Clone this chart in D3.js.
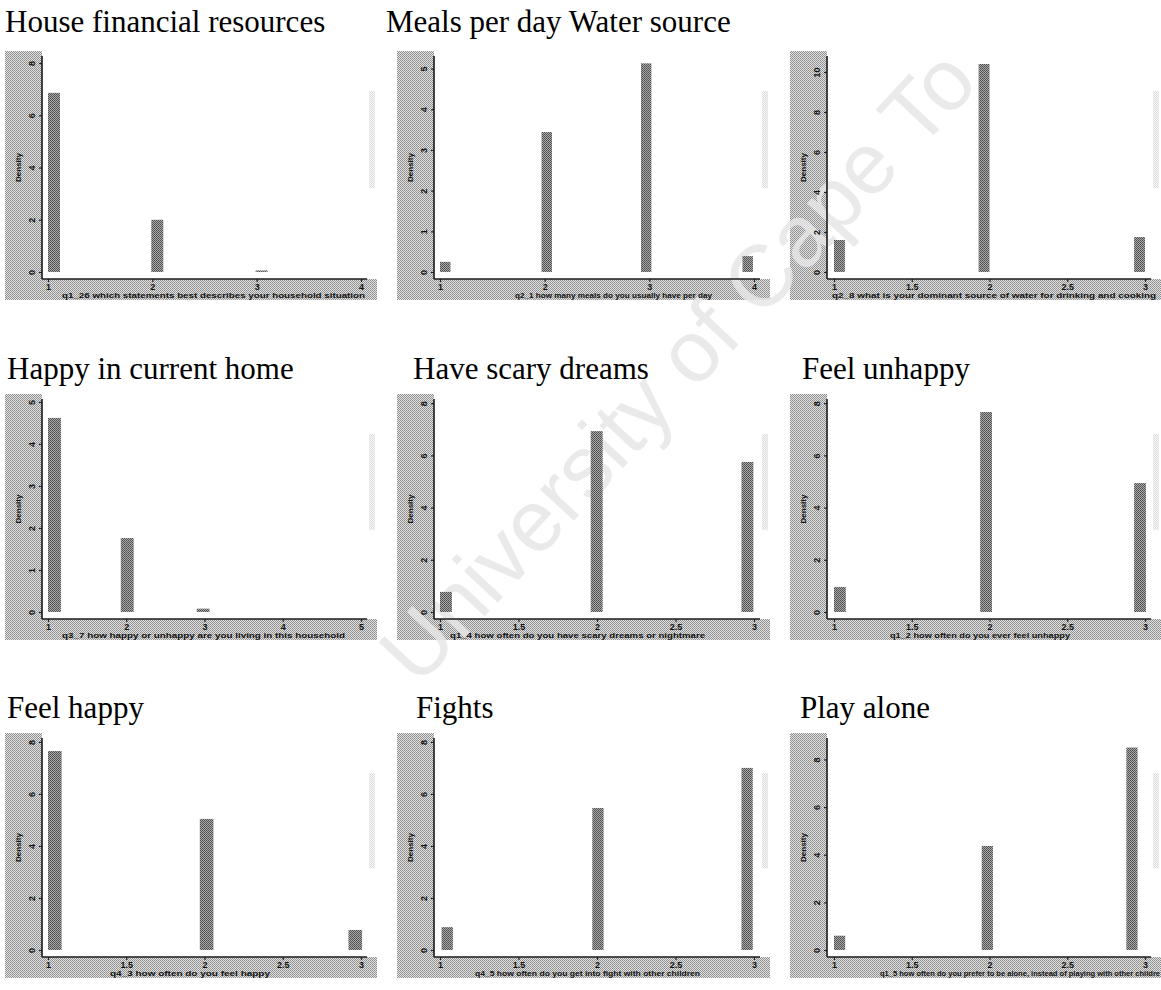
<!DOCTYPE html>
<html>
<head>
<meta charset="utf-8">
<script src="https://cdn.jsdelivr.net/npm/d3@7"></script>
<style>
  body { margin: 0; background: #fff; }
  svg { display: block; }
</style>
</head>
<body>
<div id="chart"></div>
<script>
// panel titles (Meals per day + Water source share one heading)
const titles = [
  "House financial resources", "Meals per day Water source", "",
  "Happy in current home", "Have scary dreams", "Feel unhappy",
  "Feel happy", "Fights", "Play alone"
];

// last label runs off the page in the scan
const xTitles = [
  "q1_26 which statements best describes your household situation",
  "q2_1 how many meals do you usually have per day",
  "q2_8 what is your dominant source of water for drinking and cooking",
  "q3_7 how happy or unhappy are you living in this household",
  "q1_4 how often do you have scary dreams or nightmare",
  "q1_2 how often do you ever feel unhappy",
  "q4_3 how often do you feel happy",
  "q4_5 how often do you get into fight with other children",
  "q1_5 how often do you prefer to be alone, instead of playing with other childre"
];

const xTicks = [
  [1, 2, 3, 4], [1, 2, 3, 4], [1, 1.5, 2, 2.5, 3],
  [1, 2, 3, 4, 5], [1, 1.5, 2, 2.5, 3], [1, 1.5, 2, 2.5, 3],
  [1, 1.5, 2, 2.5, 3], [1, 1.5, 2, 2.5, 3], [1, 1.5, 2, 2.5, 3]
];

const yTicks = [
  [0, 2, 4, 6, 8], [0, 1, 2, 3, 4, 5], [0, 2, 4, 6, 8, 10],
  [0, 1, 2, 3, 4, 5], [0, 2, 4, 6, 8], [0, 2, 4, 6, 8],
  [0, 2, 4, 6, 8], [0, 2, 4, 6, 8], [0, 2, 4, 6, 8]
];

// top of the y range of each plot region
const yTop = [8.27, 5.31, 10.8, 5.07, 8.16, 8.16, 8.15, 8.15, 8.9];

// histogram bins: left edge, width, density
const binStarts = [
  [1, 1.99, 2.99],
  [1, 1.97, 2.92, 3.89],
  [1, 1.93, 2.93],
  [1, 1.93, 2.9],
  [1, 1.96, 2.92],
  [1, 1.94, 2.93],
  [1, 1.97, 2.92],
  [1.01, 1.97, 2.92],
  [1, 1.95, 2.88]
];
const binWidth = [0.115, 0.1, 0.07, 0.165, 0.076, 0.076, 0.087, 0.072, 0.072];
const densities = [
  [6.86, 2.0, 0.06],
  [0.25, 3.44, 5.13, 0.39],
  [1.6, 10.4, 1.75],
  [4.62, 1.76, 0.08],
  [0.77, 6.93, 5.75],
  [0.96, 7.66, 4.94],
  [7.65, 5.04, 0.77],
  [0.88, 5.46, 7.0],
  [0.6, 4.37, 8.5]
];

// layout
const width = 1161, height = 990;
const colAxis = [42, 434, 827];          // y axis line
const colTickLo = [48, 440, 834];        // first x tick
const colTickHi = [361, 754, 1145];      // last x tick
const rowZero = [272, 612, 950];         // density 0
const rowTop = [56, 399, 738];           // top of plot region
const rowTitle = [32, 379, 718];         // heading baseline
const titleX = [5, 386, 0, 7, 413, 802, 7, 416, 800];
const xTitleSpan = [
  [62, 365], [515, 712], [832, 1156],
  [62, 345], [450, 705], [890, 1070],
  [110, 270], [475, 700], [880, 1160]
];

const svg = d3.select("#chart").append("svg")
  .attr("width", width)
  .attr("height", height)
  .style("background", "#fff");

const defs = svg.append("defs");

// halftone look of the scan
const shade = defs.append("pattern")
  .attr("id", "shade").attr("width", 2).attr("height", 2)
  .attr("patternUnits", "userSpaceOnUse");
shade.append("rect").attr("width", 2).attr("height", 2).attr("fill", "#e2e2e2");
shade.append("rect").attr("width", 1).attr("height", 1).attr("fill", "#8c8c8c");
shade.append("rect").attr("x", 1).attr("y", 1).attr("width", 1).attr("height", 1).attr("fill", "#969696");

const barFill = defs.append("pattern")
  .attr("id", "barFill").attr("width", 2).attr("height", 2)
  .attr("patternUnits", "userSpaceOnUse");
barFill.append("rect").attr("width", 2).attr("height", 2).attr("fill", "#a8a8a8");
barFill.append("rect").attr("width", 1).attr("height", 1).attr("fill", "#4e4e4e");
barFill.append("rect").attr("x", 1).attr("y", 1).attr("width", 1).attr("height", 1).attr("fill", "#5a5a5a");

const panels = titles.map((t, i) => ({
  i, col: i % 3, row: Math.floor(i / 3)
}));

// gray graph region (left + bottom margins)
panels.forEach(p => {
  const ax = colAxis[p.col], y0 = rowZero[p.row];
  const left = ax - 37, right = colTickHi[p.col] + 16;
  svg.append("rect")
    .attr("x", left).attr("y", rowTop[p.row] - 5)
    .attr("width", ax - left).attr("height", y0 + 28 - (rowTop[p.row] - 5))
    .attr("fill", "url(#shade)");
  svg.append("rect")
    .attr("x", left).attr("y", y0 + 7)
    .attr("width", right - left).attr("height", 21)
    .attr("fill", "url(#shade)");
  svg.append("rect")
    .attr("x", right - 8).attr("y", rowTop[p.row] + 35)
    .attr("width", 6).attr("height", (y0 - rowTop[p.row]) * 0.45)
    .attr("fill", "url(#shade)").attr("opacity", 0.3);
});

// watermark
svg.append("text")
  .attr("transform", "translate(418,688) rotate(-47)")
  .attr("font-family", "Liberation Sans, Arial, sans-serif")
  .attr("font-size", 87)
  .attr("fill", "#e6e6e6")
  .attr("fill-opacity", 0.85)
  .text("University of Cape To");

panels.forEach(p => {
  const { i, col, row } = p;
  const ax = colAxis[col], y0 = rowZero[row];
  const x = d3.scaleLinear()
    .domain([xTicks[i][0], xTicks[i][xTicks[i].length - 1]])
    .range([colTickLo[col], colTickHi[col]]);
  const y = d3.scaleLinear()
    .domain([0, yTop[i]])
    .range([y0, rowTop[row]]);
  const axisY = y0 + 7;
  const plotRight = colTickHi[col] + 6;

  const g = svg.append("g");

  // bars
  g.selectAll("rect.bar")
    .data(binStarts[i].map((s, k) => ({ s, d: densities[i][k] })))
    .join("rect")
      .attr("class", "bar")
      .attr("x", d => x(d.s))
      .attr("width", d => x(d.s + binWidth[i]) - x(d.s))
      .attr("y", d => y(d.d))
      .attr("height", d => y0 - y(d.d))
      .attr("fill", "url(#barFill)");

  // y axis
  g.append("g")
    .attr("transform", `translate(${ax},0)`)
    .call(d3.axisLeft(y).tickValues(yTicks[i]).tickSize(3).tickFormat(d3.format("d")))
    .call(a => a.select(".domain").remove())
    .call(a => a.selectAll(".tick line").attr("stroke", "#222").attr("stroke-width", 1.2))
    .call(a => a.selectAll(".tick text")
      .attr("x", null).attr("dy", null)
      .attr("transform", "translate(-7,0) rotate(-90)")
      .attr("text-anchor", "middle")
      .attr("font-family", "Liberation Sans, Arial, sans-serif")
      .attr("font-weight", "bold")
      .attr("font-size", 9)
      .attr("fill", "#111"));

  g.append("line")
    .attr("x1", ax).attr("x2", ax)
    .attr("y1", rowTop[row]).attr("y2", axisY)
    .attr("stroke", "#1a1a1a").attr("stroke-width", 1.6);

  g.append("text")
    .attr("transform", `translate(${ax - 21},${(rowTop[row] + axisY) / 2}) rotate(-90)`)
    .attr("text-anchor", "middle")
    .attr("font-family", "Liberation Sans, Arial, sans-serif")
    .attr("font-weight", "bold")
    .attr("font-size", 8)
    .attr("fill", "#111")
    .text("Density");

  // x axis
  g.append("g")
    .attr("transform", `translate(0,${axisY})`)
    .call(d3.axisBottom(x).tickValues(xTicks[i]).tickSize(3).tickFormat(d3.format("~g")))
    .call(a => a.select(".domain").remove())
    .call(a => a.selectAll(".tick line").attr("stroke", "#222").attr("stroke-width", 1.2))
    .call(a => a.selectAll(".tick text")
      .attr("y", 5)
      .attr("font-family", "Liberation Sans, Arial, sans-serif")
      .attr("font-weight", "bold")
      .attr("font-size", 9)
      .attr("fill", "#111"));

  g.append("line")
    .attr("x1", ax).attr("x2", plotRight)
    .attr("y1", axisY).attr("y2", axisY)
    .attr("stroke", "#1a1a1a").attr("stroke-width", 1.6);

  const span = xTitleSpan[i];
  g.append("text")
    .attr("x", span[0]).attr("y", axisY + 19)
    .attr("textLength", span[1] - span[0])
    .attr("lengthAdjust", "spacingAndGlyphs")
    .attr("font-family", "Liberation Sans, Arial, sans-serif")
    .attr("font-weight", "bold")
    .attr("font-size", 7.5)
    .attr("fill", "#111")
    .text(xTitles[i]);

  // heading
  if (titles[i]) {
    svg.append("text")
      .attr("x", titleX[i]).attr("y", rowTitle[row])
      .attr("font-family", "Liberation Serif, Times New Roman, serif")
      .attr("font-size", 31)
      .attr("fill", "#000")
      .text(titles[i]);
  }
});
</script>
</body>
</html>
